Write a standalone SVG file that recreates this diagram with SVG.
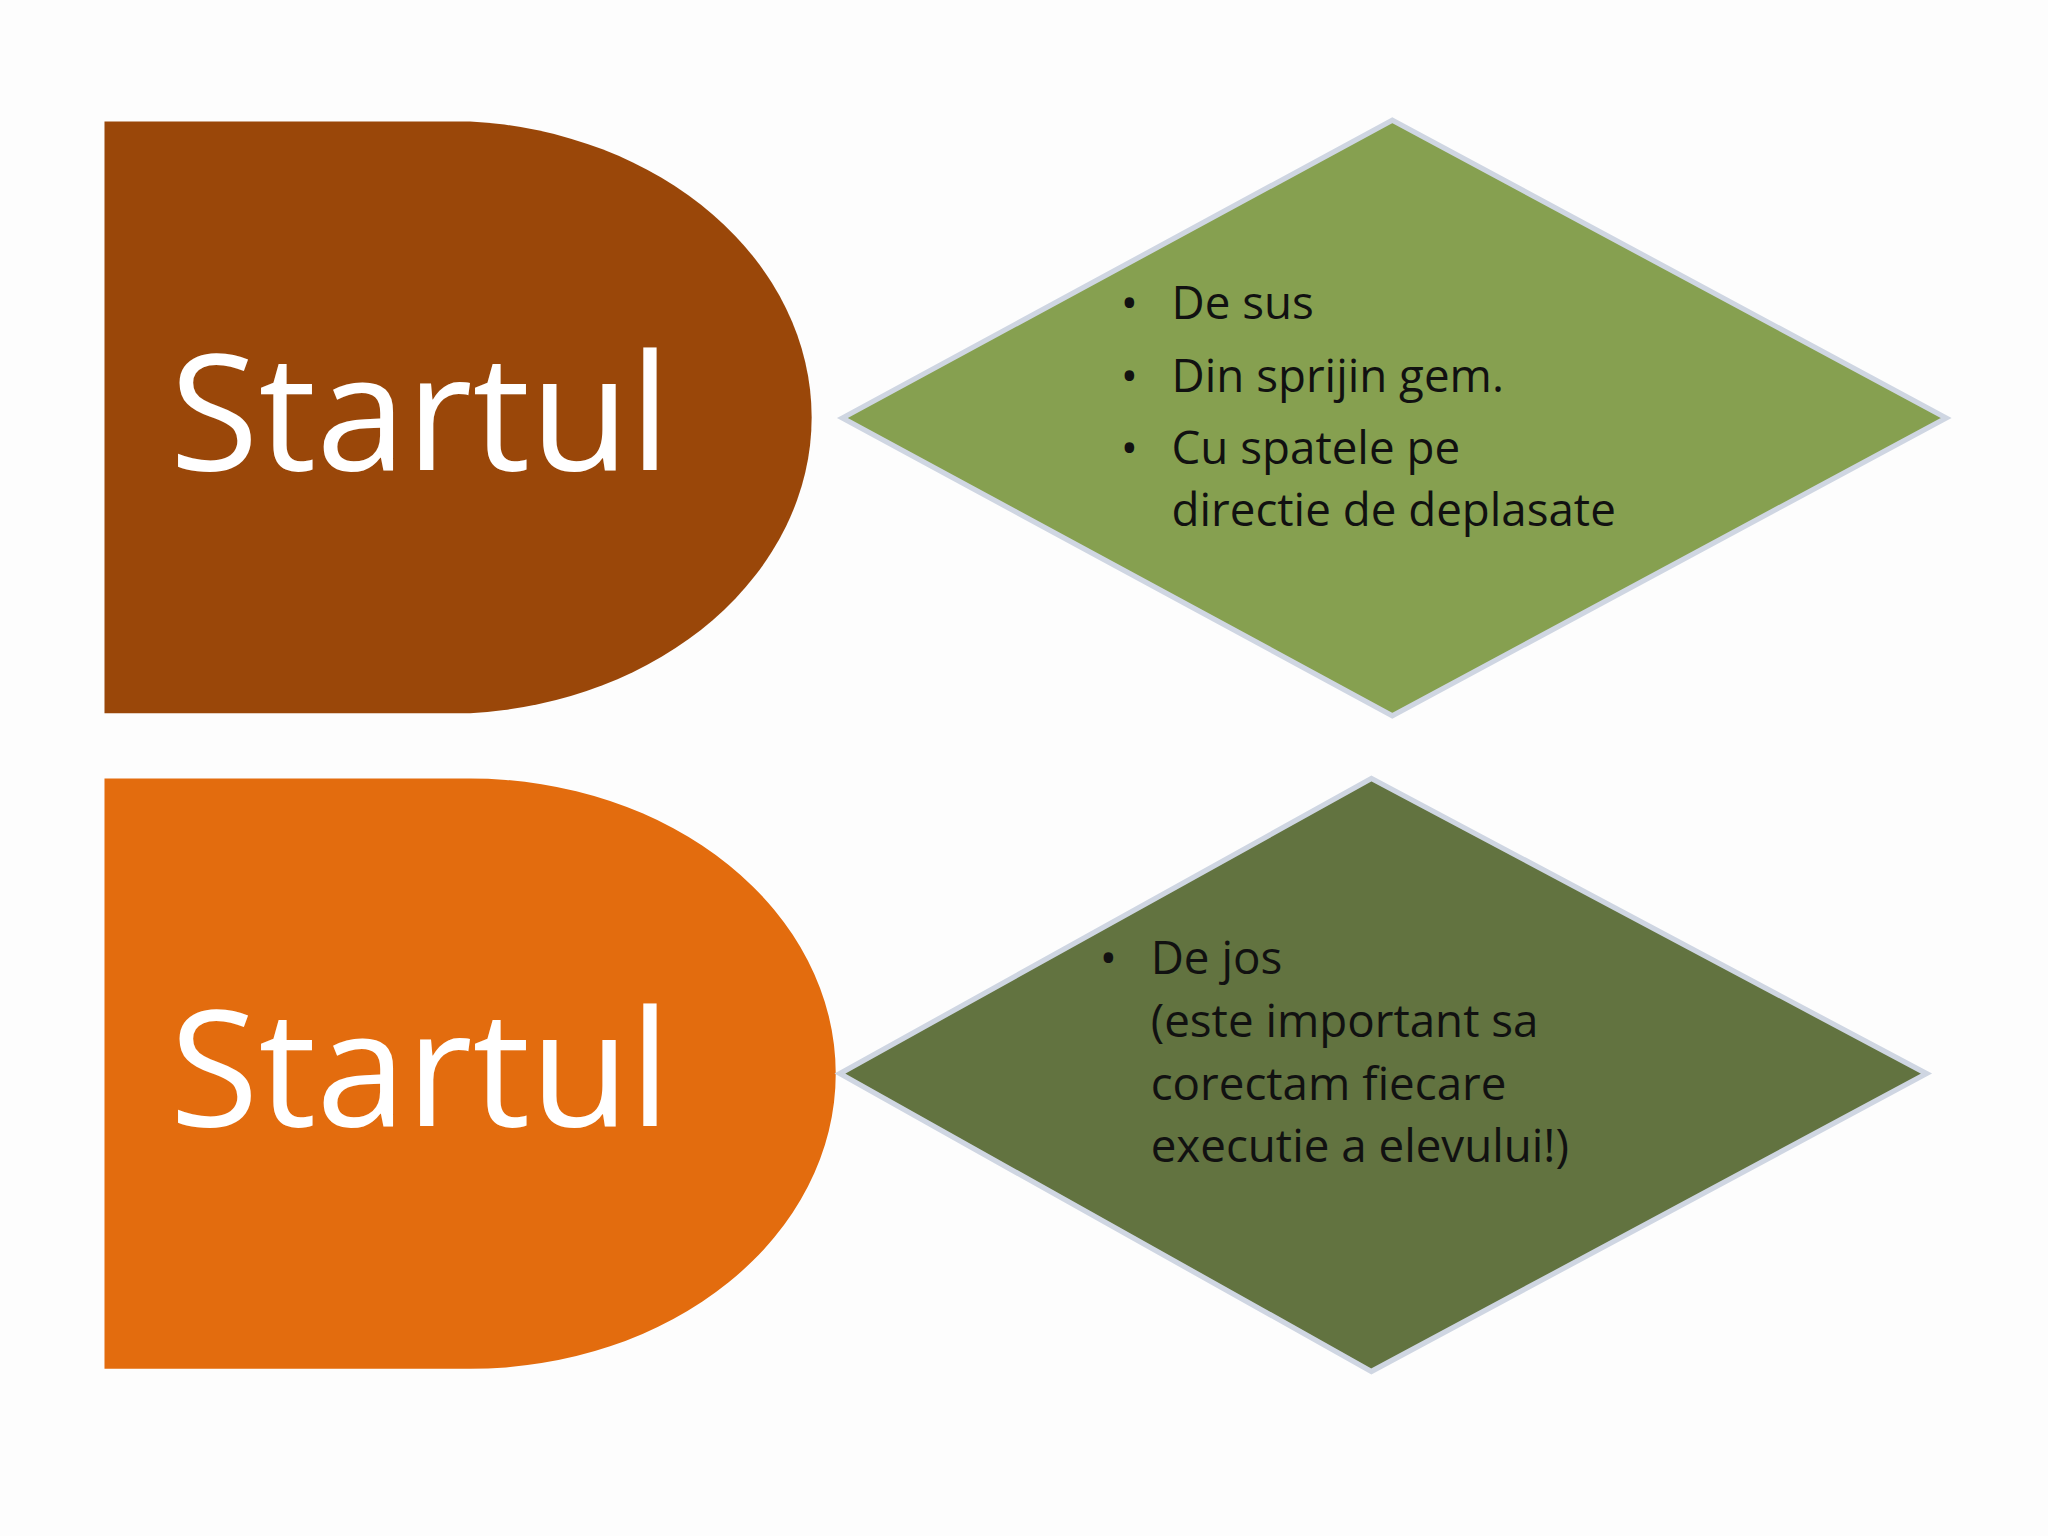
<svg xmlns="http://www.w3.org/2000/svg" width="2048" height="1536" viewBox="0 0 2048 1536">
<style>
.big{font-family:"Open Sans","Liberation Sans",sans-serif;font-size:124px;fill:#fff}
.t{font-family:"Open Sans","Liberation Sans",sans-serif;font-size:35px;fill:#111}
.d{stroke:#cfd6e2;stroke-width:4}
</style>
<rect width="2048" height="1536" fill="#fdfdfd"/>
<g transform="scale(1.30612)">
<g id="start1">
<path d="M80 93 H360 A280 227 0 0 1 360 546 H80 Z" fill="#9A4709"/>
<text class="big" x="130" y="360">Startul</text>
</g>
<g id="start2">
<path d="M80 596 H360 A280 226 0 0 1 360 1048 H80 Z" fill="#E36C0E"/>
<text class="big" x="130" y="862">Startul</text>
</g>
<g id="diamond1">
<polygon class="d" points="645,320 1066,92 1490,320 1066,548" fill="#86A050"/>
<text class="t"><tspan x="858" y="244">•</tspan><tspan x="897" y="244">De sus</tspan>
<tspan x="858" y="300">•</tspan><tspan x="897" y="300">Din sprijin gem.</tspan>
<tspan x="858" y="355">•</tspan><tspan x="897" y="355">Cu spatele pe</tspan>
<tspan x="897" y="403">directie de deplasate</tspan></text>
</g>
<g id="diamond2">
<polygon class="d" points="643,822 1050,596 1475,822 1050,1050" fill="#627340"/>
<text class="t"><tspan x="842" y="746">•</tspan><tspan x="881" y="746">De jos</tspan>
<tspan x="881" y="794">(este important sa</tspan>
<tspan x="881" y="842">corectam fiecare</tspan>
<tspan x="881" y="890">executie a elevului!)</tspan></text>
</g>
<g id="connectors"/>
</g>
</svg>
